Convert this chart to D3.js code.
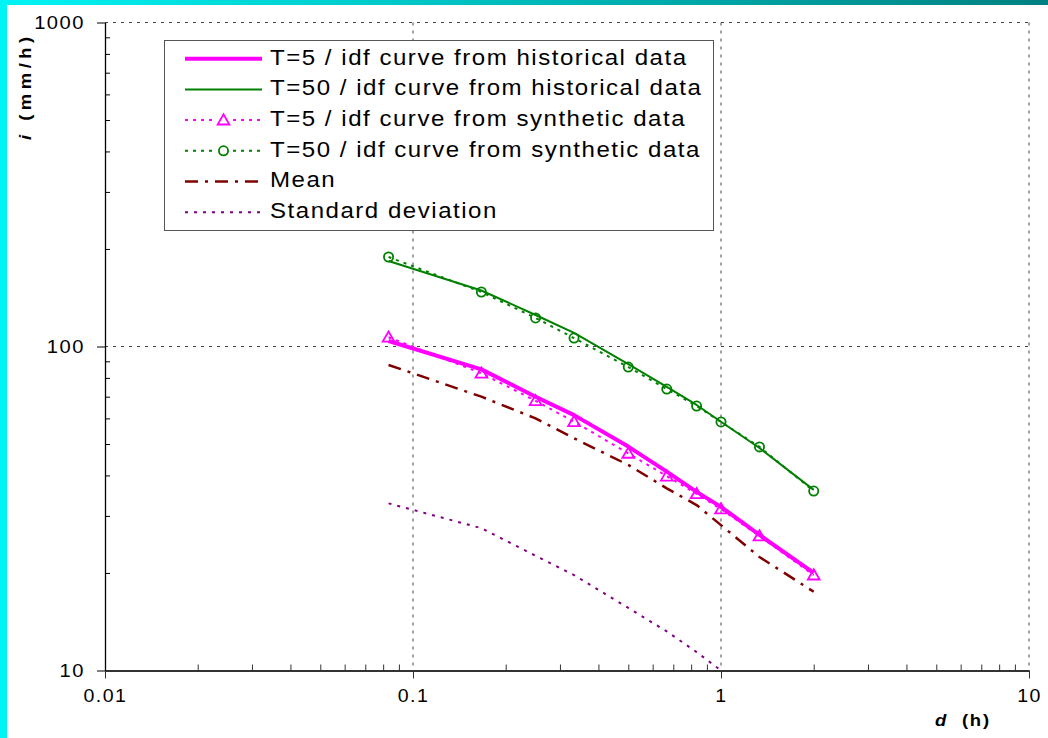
<!DOCTYPE html>
<html lang="en">
<head>
<meta charset="UTF-8">
<title>IDF curves</title>
<script src="https://d3js.org/d3.v7.min.js"></script>
<style>
  body { margin: 0; background: #fff; }
  svg { display: block; font-family: "Liberation Sans", Arial, sans-serif; }
</style>
</head>
<body>
<svg id="canvas" width="1048" height="738"></svg>
<script>
// durations (h) and intensities (mm/h)
let durations = [0.0833, 0.1667, 0.25, 0.3333, 0.5, 0.6667, 0.8333, 1, 1.3333, 2]
let hist5   = [104.0, 85.0, 70.0, 61.4, 49.1, 41.1, 35.6, 32.0, 26.2, 20.0]
let hist50  = [183.6, 148.9, 125.1, 110.1, 88.3, 75.1, 66.0, 58.6, 48.6, 36.1]
let synth5  = [106.8, 82.7, 68.0, 58.6, 46.8, 39.8, 35.1, 31.5, 26.0, 19.7]
let synth50 = [188.9, 147.3, 122.5, 106.2, 86.4, 73.9, 65.5, 58.5, 49.0, 35.8]
let meanI   = [87.7, 70.0, 60.0, 52.1, 43.1, 36.5, 32.4, 28.1, 22.4, 17.5]
let stdI    = [32.8, 27.5, 22.6, 19.7, 15.6, 13.2, 11.4, 10.0]

let xTicks = [0.01, 0.1, 1, 10]
let xTickLabels = ['0.01', '0.1', '1', '10']
let yTicks = [10, 100, 1000]
let yTickLabels = ['10', '100', '1000']

let legendLabels = [
  'T=5 / idf curve from historical data',
  'T=50 / idf curve from historical data',
  'T=5 / idf curve from synthetic data',
  'T=50 / idf curve from synthetic data',
  'Mean',
  'Standard deviation'
]

let svg = d3.select('#canvas')
let SX = 1.12   // text in the source is drawn a bit wide

// frame strips
let grad = svg.append('defs').append('linearGradient').attr('id', 'topg')
grad.append('stop').attr('offset', '0%').attr('stop-color', '#00f4f4')
grad.append('stop').attr('offset', '100%').attr('stop-color', '#008080')
svg.append('rect').attr('x', 0).attr('y', 0).attr('width', 1048).attr('height', 5).attr('fill', 'url(#topg)')
svg.append('rect').attr('x', 0).attr('y', 0).attr('width', 7).attr('height', 738).attr('fill', '#00f4f4')

let x = d3.scaleLog().domain([0.01, 10]).range([105, 1029])
let y = d3.scaleLog().domain([10, 1000]).range([670.5, 22.5])

// grid
let grid = svg.append('g').attr('stroke', '#444').attr('stroke-width', 1).attr('stroke-dasharray', '3,5')
grid.selectAll('.gv').data([0.1, 1, 10]).enter().append('line')
  .attr('x1', d => x(d)).attr('x2', d => x(d)).attr('y1', y(1000)).attr('y2', y(10))
grid.selectAll('.gh').data([100, 1000]).enter().append('line')
  .attr('x1', x(0.01)).attr('x2', x(10)).attr('y1', d => y(d)).attr('y2', d => y(d))

// minor ticks
let minors = []
;[0.01, 0.1, 1].forEach(b => { for (let k = 2; k <= 9; k++) minors.push(b * k) })
let yMinors = []
;[10, 100].forEach(b => { for (let k = 2; k <= 9; k++) yMinors.push(b * k) })

let xAxis = svg.append('g').attr('transform', 'translate(0,' + y(10) + ')')
  .call(d3.axisBottom(x).tickValues(xTicks).tickSize(8).tickSizeOuter(0).tickFormat((d, i) => xTickLabels[i]))
xAxis.select('.domain').attr('stroke', '#333').attr('stroke-width', 2)
xAxis.selectAll('.tick line').attr('stroke', '#333')
xAxis.selectAll('text').attr('font-size', 17.5).attr('fill', '#000').attr('y', 19).attr('dy', '0.71em')
  .attr('letter-spacing', 1.3).attr('transform', 'scale(' + SX + ',1)')
svg.append('g').attr('transform', 'translate(0,' + y(10) + ')')
  .call(d3.axisBottom(x).tickValues(minors).tickSize(-6).tickFormat(''))
  .call(g => g.select('.domain').remove())
  .selectAll('line').attr('stroke', '#333')

let yAxis = svg.append('g').attr('transform', 'translate(' + x(0.01) + ',0)')
  .call(d3.axisLeft(y).tickValues(yTicks).tickSize(8).tickSizeOuter(0).tickFormat((d, i) => yTickLabels[i]))
yAxis.select('.domain').attr('stroke', '#000').attr('stroke-width', 1.3)
yAxis.selectAll('.tick line').attr('stroke', '#000')
yAxis.selectAll('text').attr('font-size', 18).attr('fill', '#000').attr('x', -18).attr('dy', '0.33em')
  .attr('letter-spacing', 1.3).attr('transform', 'scale(' + SX + ',1)')
svg.append('g').attr('transform', 'translate(' + x(0.01) + ',0)')
  .call(d3.axisLeft(y).tickValues(yMinors).tickSize(-5).tickFormat(''))
  .call(g => g.select('.domain').remove())
  .selectAll('line').attr('stroke', '#000')

// axis titles
let xt = svg.append('text').attr('transform', 'translate(935,726) scale(' + SX + ',1)')
  .attr('font-size', 16.5).attr('font-weight', 'bold').attr('letter-spacing', 1.6)
xt.append('tspan').attr('font-style', 'italic').text('d')
xt.append('tspan').text('  (h)').attr('xml:space', 'preserve')
let yt = svg.append('text').attr('transform', 'translate(31,140) rotate(-90) scale(' + SX + ',1)')
  .attr('font-size', 16.5).attr('font-weight', 'bold').attr('letter-spacing', 4)
yt.append('tspan').attr('font-style', 'italic').text('i')
yt.append('tspan').text(' (mm/h)')

// series
let series = [
  { vals: hist5, color: '#ff00ff', width: 4, dash: null, marker: null },
  { vals: hist50, color: '#008000', width: 2, dash: null, marker: null },
  { vals: synth5, color: '#ff00ff', width: 2, dash: '3,5', marker: 'tri' },
  { vals: synth50, color: '#008000', width: 2, dash: '3,5', marker: 'circ' },
  { vals: meanI, color: '#800000', width: 2.5, dash: '13,7,3,7', marker: null },
  { vals: stdI, color: '#800080', width: 2, dash: '3,6', marker: null }
]

let line = d3.line().x(d => x(d[0])).y(d => y(d[1]))
let plot = svg.append('g')

let drawMarker = (g, type, cx, cy, color) => {
  if (type === 'tri') {
    g.append('path').attr('d', d3.symbol().type(d3.symbolTriangle).size(60)())
      .attr('transform', 'translate(' + cx + ',' + (cy + 1) + ')')
      .attr('fill', 'none').attr('stroke', color).attr('stroke-width', 1.8)
  } else if (type === 'circ') {
    g.append('circle').attr('cx', cx).attr('cy', cy).attr('r', 4.6)
      .attr('fill', 'none').attr('stroke', color).attr('stroke-width', 1.8)
  }
}

// draw bottom layers first so the thick magenta sits on top like the source
;[5, 4, 3, 2, 1, 0].forEach(i => {
  let s = series[i]
  let pts = s.vals.map((v, j) => [durations[j], v])
  plot.append('path').datum(pts).attr('d', line)
    .attr('fill', 'none').attr('stroke', s.color).attr('stroke-width', s.width)
    .attr('stroke-dasharray', s.dash).attr('stroke-linejoin', 'round')
  if (s.marker) pts.forEach(p => drawMarker(plot, s.marker, x(p[0]), y(p[1]), s.color))
})

// legend
let lg = svg.append('g')
lg.append('rect').attr('x', 164.5).attr('y', 40.5).attr('width', 549).attr('height', 190)
  .attr('fill', '#fff').attr('stroke', '#555').attr('stroke-width', 1)
series.forEach((s, i) => {
  let ly = 58.7 + i * 30.7
  lg.append('line').attr('x1', 185).attr('x2', 262).attr('y1', ly).attr('y2', ly)
    .attr('stroke', s.color).attr('stroke-width', s.width).attr('stroke-dasharray', s.dash)
  if (s.marker) {
    lg.append('rect').attr('x', 216).attr('y', ly - 6).attr('width', 15).attr('height', 12).attr('fill', '#fff')
    drawMarker(lg, s.marker, 223.5, ly, s.color)
  }
  lg.append('text').attr('transform', 'translate(270,' + (ly + 5.8) + ') scale(' + SX + ',1)')
    .attr('font-size', 21.5).attr('letter-spacing', 1.35).attr('fill', '#000')
    .text(legendLabels[i])
})
</script>
</body>
</html>
